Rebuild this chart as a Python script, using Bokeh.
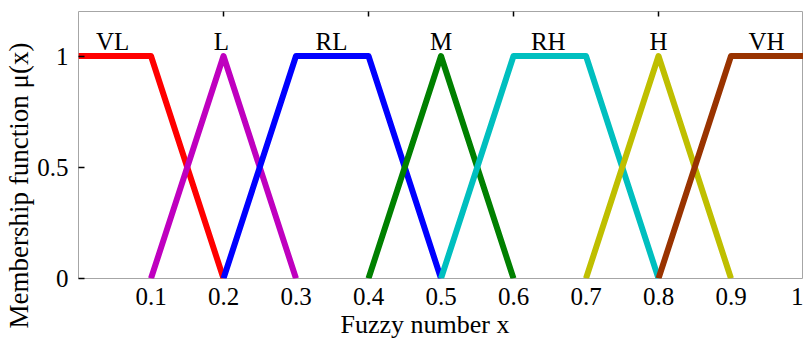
from bokeh.plotting import figure
from bokeh.models import FixedTicker, ColumnDataSource, Range1d, Title, LinearAxis
from bokeh.core.properties import value
from bokeh.embed import file_html
from bokeh.resources import INLINE

# membership function breakpoints
vl_x = [0.0, 0.1, 0.2]; vl_y = [1, 1, 0]
l_x = [0.1, 0.2, 0.3]; l_y = [0, 1, 0]
rl_x = [0.2, 0.3, 0.4, 0.5]; rl_y = [0, 1, 1, 0]
m_x = [0.4, 0.5, 0.6]; m_y = [0, 1, 0]
rh_x = [0.5, 0.6, 0.7, 0.8]; rh_y = [0, 1, 1, 0]
h_x = [0.7, 0.8, 0.9]; h_y = [0, 1, 0]
vh_x = [0.8, 0.9, 1.0]; vh_y = [0, 1, 1]

set_names = ["VL", "L", "RL", "M", "RH", "H", "VH"]
name_x = [0.047, 0.197, 0.349, 0.5, 0.648, 0.8, 0.949]
name_y = [1.066] * 7

x_ticks = [0.1, 0.2, 0.3, 0.4, 0.5, 0.6, 0.7, 0.8, 0.9, 1.0]
x_tick_labels = ["0.1", "0.2", "0.3", "0.4", "0.5", "0.6", "0.7", "0.8", "0.9", "1"]
y_ticks = [0, 0.5, 1]
y_tick_labels = ["0", "0.5", "1"]
top_ticks = [0.2, 0.4, 0.6, 0.8]

colors = ["#ff0000", "#bf00bf", "#0000ff", "#008000", "#00bfbf", "#bfbf00", "#993300"]
series = [(vl_x, vl_y), (l_x, l_y), (rl_x, rl_y), (m_x, m_y), (rh_x, rh_y), (h_x, h_y), (vh_x, vh_y)]

FONT = "Liberation Serif"

p = figure(width=803, height=348, output_backend="svg", toolbar_location=None,
           x_range=Range1d(0, 1), y_range=Range1d(0, 1.2),
           min_border_left=78, min_border_right=0, min_border_top=11, min_border_bottom=70)
p.background_fill_color = "white"
p.border_fill_color = "white"
p.outline_line_color = "#a6a6a6"
p.outline_line_width = 1
p.xgrid.visible = False
p.ygrid.visible = False

for (xs, ys), c in zip(series, colors):
    p.line(xs, ys, line_color=c, line_width=6, line_join="round", line_cap="butt")

src = ColumnDataSource(dict(x=name_x, y=name_y, t=set_names))
p.text(x="x", y="y", text="t", source=src, text_font=value(FONT), text_font_size="25px",
       text_align="center", text_baseline="alphabetic", text_color="black")

p.xaxis.ticker = FixedTicker(ticks=x_ticks)
p.xaxis.major_label_overrides = {t: s for t, s in zip(x_ticks, x_tick_labels)}
p.yaxis.ticker = FixedTicker(ticks=y_ticks)
p.yaxis.major_label_overrides = {t: s for t, s in zip(y_ticks, y_tick_labels)}
for ax in (p.xaxis[0], p.yaxis[0]):
    ax.axis_line_color = None
    ax.minor_tick_line_color = None
    ax.major_tick_out = 0
    ax.major_label_text_font = FONT
    ax.major_label_text_font_size = "25px"
    ax.major_label_text_color = "black"
p.xaxis.major_tick_line_color = None
p.xaxis.major_tick_in = 0
p.yaxis.major_tick_line_color = "black"
p.yaxis.major_tick_line_width = 1.5
p.yaxis.major_tick_in = 6
p.xaxis.major_label_standoff = 9
p.yaxis.major_label_standoff = 10

# small inner tick marks along the top edge
top_axis = LinearAxis(ticker=FixedTicker(ticks=top_ticks),
                      major_label_overrides={t: "" for t in top_ticks},
                      major_label_text_font_size="1px", major_label_standoff=0,
                      axis_line_color=None, minor_tick_line_color=None,
                      major_tick_line_color="black", major_tick_line_width=1.5,
                      major_tick_in=5, major_tick_out=0)
p.add_layout(top_axis, "above")

# axis titles
p.add_layout(Title(text="Fuzzy number x", align="left", offset=262, standoff=0,
                   text_font=FONT, text_font_size="26px", text_font_style="normal",
                   text_color="black"), "below")
p.add_layout(Title(text="Membership function \u03bc(x)", align="left", offset=-50, standoff=2,
                   text_font=FONT, text_font_size="27px", text_font_style="normal",
                   text_color="black"), "left")

open("out.html", "w").write(file_html(p, INLINE))
